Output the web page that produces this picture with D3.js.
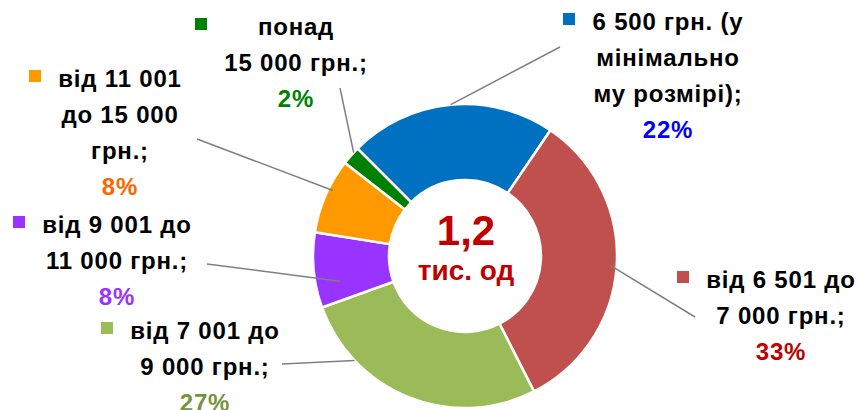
<!DOCTYPE html>
<html>
<head>
<meta charset="utf-8">
<script src="https://cdn.jsdelivr.net/npm/d3@7"></script>
<style>
    html, body { margin: 0; padding: 0; background: #fff; }
    svg { display: block; }
    text { font-family: "Liberation Sans", Arial, sans-serif; font-weight: bold; }
</style>
</head>
<body>
<svg id="chart" width="859" height="410"></svg>
<script>
// slice data, clockwise from the blue one
const categories = [
    ["6 500 грн. (у", "мінімально", "му розмірі);"],
    ["від 6 501 до", "7 000 грн.;"],
    ["від 7 001 до", "9 000 грн.;"],
    ["від 9 001 до", "11 000 грн.;"],
    ["від 11 001", "до 15 000", "грн.;"],
    ["понад", "15 000 грн.;"]
];
const shares = [22, 33, 27, 8, 8, 2];
const pctLabels = ["22%", "33%", "27%", "8%", "8%", "2%"];
const centerValue = "1,2";
const centerUnit = "тис. од";

const sliceColors = ["#0070C0", "#C0504D", "#9BBB59", "#9933FF", "#FF9900", "#008000"];
const pctColors = ["#0000FF", "#C00000", "#77933C", "#9933FF", "#FF6600", "#008000"];

// label layout: text centre x, first baseline y, square x, leader start (dx,dy from x/y),
// leader end angle shift (deg) and radius factor
const labelLayout = [
    {x: 668, y: 30, sq: 563, lx: -108, ly: 17, shift: 0, rf: 1.0},
    {x: 781, y: 288, sq: 677, lx: -86, ly: 29, shift: 0, rf: 0.955},
    {x: 205, y: 339, sq: 101, lx: 77, ly: 25, shift: 25, rf: 1.0},
    {x: 117, y: 233, sq: 13, lx: 90, ly: 31, shift: -6, rf: 0.84},
    {x: 120, y: 87, sq: 29, lx: 77, ly: 52, shift: 3, rf: 0.97},
    {x: 296, y: 35, sq: 195, lx: 44, ly: 53, shift: 1.5, rf: 1.0}
];

const svg = d3.select("#chart"),
    cx = 465,
    cy = 256,
    outerR = 152,
    innerR = 76,
    lineH = 36;

const pie = d3.pie()
    .sort(null)
    .startAngle(-45 * Math.PI / 180)
    .endAngle(315 * Math.PI / 180);
const arcs = pie(shares);

const arc = d3.arc().innerRadius(innerR).outerRadius(outerR);

const g = svg.append("g").attr("transform", `translate(${cx},${cy})`);

g.selectAll("path.slice")
    .data(arcs)
    .join("path")
        .attr("class", "slice")
        .attr("d", arc)
        .attr("fill", (d, i) => sliceColors[i])
        .attr("stroke", "#fff")
        .attr("stroke-width", 2.5)
        .attr("stroke-linejoin", "miter");

// leader lines
svg.selectAll("line.leader")
    .data(arcs)
    .join("line")
        .attr("class", "leader")
        .attr("x1", (d, i) => labelLayout[i].x + labelLayout[i].lx)
        .attr("y1", (d, i) => labelLayout[i].y + labelLayout[i].ly)
        .attr("x2", (d, i) => {
            const a = (d.startAngle + d.endAngle) / 2 + labelLayout[i].shift * Math.PI / 180;
            return cx + Math.sin(a) * outerR * labelLayout[i].rf;
        })
        .attr("y2", (d, i) => {
            const a = (d.startAngle + d.endAngle) / 2 + labelLayout[i].shift * Math.PI / 180;
            return cy - Math.cos(a) * outerR * labelLayout[i].rf;
        })
        .attr("stroke", "#808080")
        .attr("stroke-width", 1.5);

// labels
const labels = svg.selectAll("g.label")
    .data(categories)
    .join("g")
        .attr("class", "label");

labels.append("rect")
    .attr("x", (d, i) => labelLayout[i].sq)
    .attr("y", (d, i) => labelLayout[i].y - 17)
    .attr("width", 12)
    .attr("height", 12)
    .attr("fill", (d, i) => sliceColors[i]);

labels.each(function(lines, i) {
    const lay = labelLayout[i];
    const t = d3.select(this).append("text")
        .attr("text-anchor", "middle")
        .attr("font-size", 24)
        .attr("letter-spacing", 0.8);
    lines.forEach((s, j) => {
        t.append("tspan")
            .attr("x", lay.x)
            .attr("y", lay.y + j * lineH)
            .attr("fill", "#000")
            .text(s);
    });
    t.append("tspan")
        .attr("x", lay.x)
        .attr("y", lay.y + lines.length * lineH)
        .attr("fill", pctColors[i])
        .text(pctLabels[i]);
});

// centre text
svg.append("text")
    .attr("x", cx + 1)
    .attr("y", cy - 11)
    .attr("text-anchor", "middle")
    .attr("font-size", 42)
    .attr("fill", "#C00000")
    .text(centerValue);

svg.append("text")
    .attr("x", cx + 1)
    .attr("y", cy + 24)
    .attr("text-anchor", "middle")
    .attr("font-size", 28)
    .attr("fill", "#C00000")
    .text(centerUnit);
</script>
</body>
</html>
